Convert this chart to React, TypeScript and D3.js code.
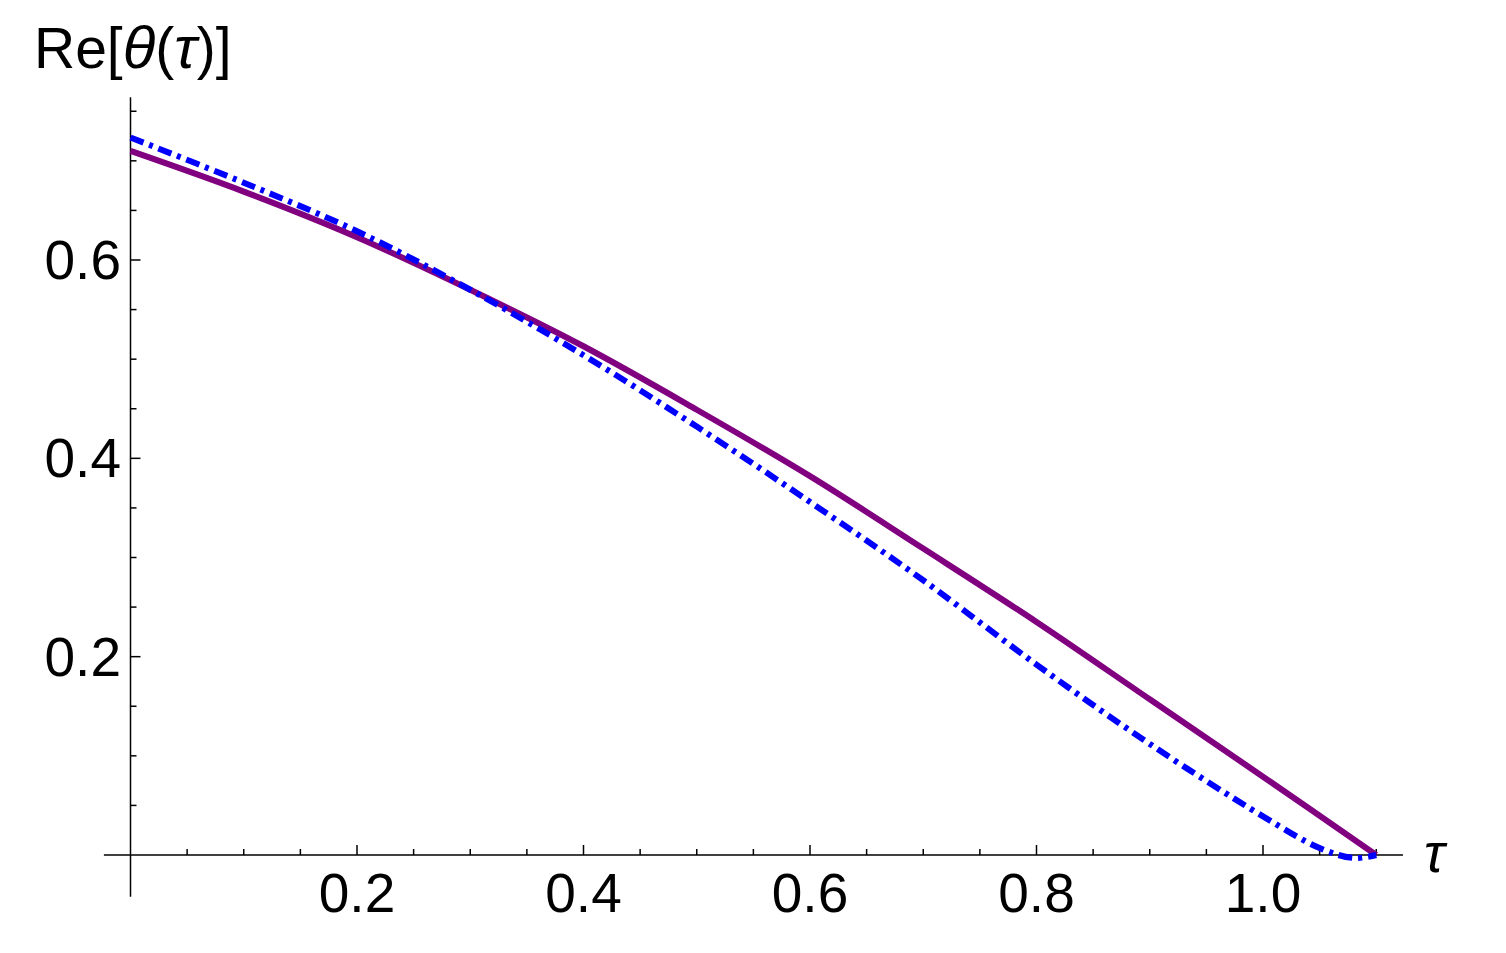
import * as d3 from "d3";

// ---------------------------------------------------------------------------
// Data
// ---------------------------------------------------------------------------

const TAU_SOLID = [0, 0.1, 0.2, 0.3, 0.4, 0.5, 0.6, 0.7, 0.8, 0.9, 1.0, 1.1];
const RE_SOLID = [0.71, 0.669, 0.623, 0.57, 0.513, 0.449, 0.382, 0.309, 0.235, 0.157, 0.079, 0];

const TAU_DASHED = [0, 0.1, 0.2, 0.3, 0.4, 0.5, 0.6, 0.7, 0.8, 0.9, 1.0, 1.05, 1.08, 1.1];
const RE_DASHED = [0.7235, 0.678, 0.629, 0.57, 0.504, 0.432, 0.356, 0.277, 0.192, 0.112, 0.039, 0.007, -0.003, 0];

const X_MAJOR = [0.2, 0.4, 0.6, 0.8, 1.0];
const X_MINOR = [0.05, 0.1, 0.15, 0.25, 0.3, 0.35, 0.45, 0.5, 0.55, 0.65, 0.7, 0.75, 0.85, 0.9, 0.95, 1.05, 1.1];
const Y_MAJOR = [0.2, 0.4, 0.6];
const Y_MINOR = [0.05, 0.1, 0.15, 0.25, 0.3, 0.35, 0.45, 0.5, 0.55, 0.65, 0.7, 0.75];

const WIDTH = 1506;
const HEIGHT = 953;
const FONT = "'Liberation Sans', Arial, sans-serif";

export default function App() {
  // axis placement from the picture: tau=0 at 130.5px, 1.0 at 1263px; y=0 at 855px, 0.6 at 260px
  const x = d3.scaleLinear().domain([0, 1]).range([130.5, 1263]);
  const y = d3.scaleLinear().domain([0, 0.6]).range([855, 260]);

  const xAxisStart = x(-0.0235);
  const xAxisEnd = x(1.1236);
  const yAxisTop = y(0.764);
  const yAxisBottom = y(-0.042);

  const line = d3
    .line<[number, number]>()
    .x((d) => x(d[0]))
    .y((d) => y(d[1]))
    .curve(d3.curveCatmullRom.alpha(0.5));

  const solid = line(TAU_SOLID.map((t, i) => [t, RE_SOLID[i]]));
  const dashed = line(TAU_DASHED.map((t, i) => [t, RE_DASHED[i]]));

  const x0 = x(0);
  const y0 = y(0);

  return (
    <svg
      width={WIDTH}
      height={HEIGHT}
      style={{ position: "absolute", left: 0, top: 0, background: "#fff" }}
    >
      {/* ---- Axes ---- */}
      <g stroke="#000" strokeWidth={1.5}>
        <line x1={xAxisStart} x2={xAxisEnd} y1={y0} y2={y0} />
        <line x1={x0} x2={x0} y1={yAxisTop} y2={yAxisBottom} />
        {X_MAJOR.map((t) => (
          <line key={`xM${t}`} x1={x(t)} x2={x(t)} y1={y0} y2={y0 - 10} />
        ))}
        {X_MINOR.map((t) => (
          <line key={`xm${t}`} x1={x(t)} x2={x(t)} y1={y0} y2={y0 - 6} />
        ))}
        {Y_MAJOR.map((v) => (
          <line key={`yM${v}`} x1={x0} x2={x0 + 10} y1={y(v)} y2={y(v)} />
        ))}
        {Y_MINOR.map((v) => (
          <line key={`ym${v}`} x1={x0} x2={x0 + 6} y1={y(v)} y2={y(v)} />
        ))}
      </g>

      {/* ---- Tick labels ---- */}
      <g fontFamily={FONT} fontSize={55} fill="#000">
        {X_MAJOR.map((t) => (
          <text key={`xl${t}`} x={x(t)} y={912} textAnchor="middle">
            {t.toFixed(1)}
          </text>
        ))}
        {Y_MAJOR.map((v) => (
          <text key={`yl${v}`} x={121} y={y(v) + 19} textAnchor="end">
            {v.toFixed(1)}
          </text>
        ))}
      </g>

      {/* ---- Axis labels ---- */}
      <text x={34} y={68} fontFamily={FONT} fontSize={57} fill="#000">
        Re[<tspan fontStyle="italic" fontSize={60}>θ</tspan>(<tspan fontStyle="italic" fontSize={60}>τ</tspan>)]
      </text>
      <text x={1424} y={872} fontFamily={FONT} fontSize={55} fontStyle="italic" fill="#000">
        τ
      </text>

      {/* ---- Curves ---- */}
      <path d={solid ?? ""} fill="none" stroke="#800080" strokeWidth={6} />
      <path
        d={dashed ?? ""}
        fill="none"
        stroke="#0000ff"
        strokeWidth={6}
        strokeDasharray="14,6,4,6"
      />
    </svg>
  );
}
